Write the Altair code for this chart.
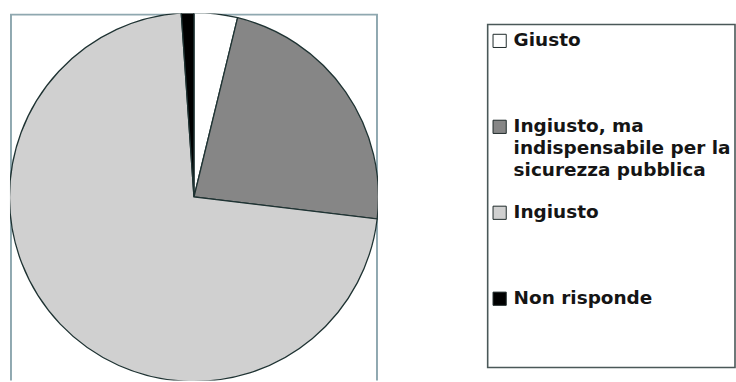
import altair as alt
import pandas as pd

# Opinion shares (%) drawn as a pie, clockwise from 12 o'clock
categories = [
    "Giusto",
    "Ingiusto, ma indispensabile per la sicurezza pubblica",
    "Ingiusto",
    "Non risponde",
]
legend_labels = [
    "Giusto",
    "Ingiusto, ma\nindispensabile per la\nsicurezza pubblica",
    "Ingiusto",
    "Non risponde",
]
values = [3.8, 23.1, 72.0, 1.1]
colors = ["#ffffff", "#868686", "#d0d0d0", "#000000"]

df = pd.DataFrame({
    "idx": list(range(len(categories))),
    "category": categories,
    "label": legend_labels,
    "value": values,
})

color_scale = alt.Scale(domain=categories, range=colors)

PANEL_W = 369
PANEL_H = 368

# Plot-area frame; its lower edge runs past the bottom and is clipped away
pie_frame = (
    alt.Chart(df)
    .mark_rect(fill=None, stroke="#8fa8b0", strokeWidth=2, clip=True)
    .encode(
        x=alt.value(1), x2=alt.value(PANEL_W - 1),
        y=alt.value(1), y2=alt.value(PANEL_H + 6),
    )
    .transform_filter(alt.datum.idx == 0)
)

slices = (
    alt.Chart(df)
    .mark_arc(radius=185, stroke="#1f3333", strokeWidth=1.3, clip=True)
    .encode(
        theta=alt.Theta("value:Q", stack=True),
        order=alt.Order("idx:Q"),
        color=alt.Color("category:N", scale=color_scale, legend=None),
    )
)

pie = alt.layer(pie_frame, slices).properties(
    width=PANEL_W,
    height=PANEL_H,
    view=alt.ViewBackground(stroke=None),
)

# Hand-built legend: one row per category, evenly spaced
row_y = alt.Y(
    "category:N",
    sort=categories,
    scale=alt.Scale(type="point", padding=0.635, align=0.251),
    axis=None,
)

legend_frame = (
    alt.Chart(df)
    .mark_rect(fill="white", stroke="#4a5858", strokeWidth=1.6)
    .encode(
        x=alt.value(0), x2=alt.value(248),
        y=alt.value(11), y2=alt.value(355),
    )
    .transform_filter(alt.datum.idx == 0)
)

swatches = (
    alt.Chart(df)
    .mark_square(size=175, stroke="#1f2a2a", strokeWidth=1, opacity=1)
    .encode(
        x=alt.value(12),
        y=row_y,
        color=alt.Color("category:N", scale=color_scale, legend=None),
    )
)

labels = (
    alt.Chart(df)
    .mark_text(
        align="left",
        baseline="top",
        dy=-10,
        font="DejaVu Sans",
        fontSize=18.5,
        fontWeight="bold",
        lineBreak="\n",
        lineHeight=22,
        color="#151515",
    )
    .encode(x=alt.value(26), y=row_y, text="label:N")
)

legend = alt.layer(legend_frame, swatches, labels).properties(
    width=247,
    height=PANEL_H,
    view=alt.ViewBackground(stroke=None),
)

chart = (
    alt.hconcat(pie, legend, spacing=109)
    .properties(
        padding={"left": 10, "top": 13, "right": 0, "bottom": 0},
        background="white",
    )
)

chart.save("out.html", embed_options={"renderer": "svg", "actions": False})
